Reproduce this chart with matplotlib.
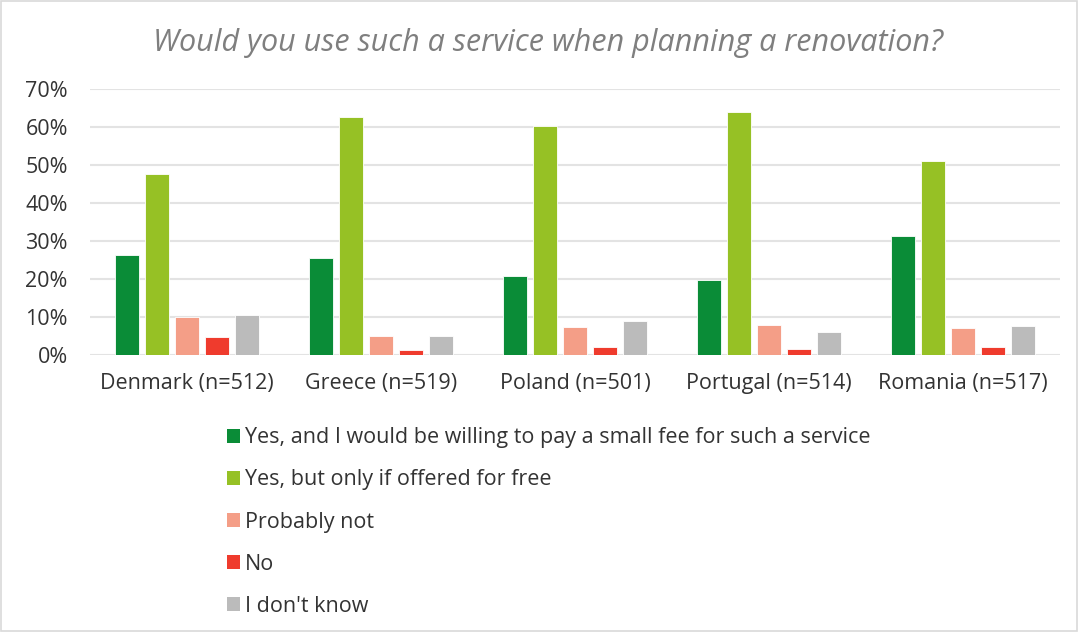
import numpy as np
import matplotlib.pyplot as plt
from matplotlib.patches import Patch, Rectangle

plt.rcParams['font.family'] = ['Open Sans', 'DejaVu Sans']

countries = ['Denmark (n=512)', 'Greece (n=519)', 'Poland (n=501)',
             'Portugal (n=514)', 'Romania (n=517)']
answers = ['Yes, and I would be willing to pay a small fee for such a service',
           'Yes, but only if offered for free',
           'Probably not',
           'No',
           "I don't know"]
yes_pay = [26.3, 25.6, 20.8, 19.7, 31.4]
yes_free = [47.6, 62.6, 60.3, 63.9, 51.1]
probably_not = [10.0, 4.9, 7.3, 7.8, 7.0]
no = [4.8, 1.3, 2.2, 1.7, 2.2]
dont_know = [10.6, 4.9, 8.9, 6.1, 7.6]

series = [yes_pay, yes_free, probably_not, no, dont_know]
colors = ['#0A8C37', '#96C125', '#F49E87', '#EF3B2D', '#BBBBBB']

fig = plt.figure(figsize=(10.78, 6.32), dpi=100)
ax = fig.add_axes([90 / 1078, 1 - 355 / 632, 970 / 1078, 266 / 632])

x = np.arange(len(countries))
pitch = 0.155
width = 0.122
for i, (vals, c) in enumerate(zip(series, colors)):
    ax.bar(x + (i - 2) * pitch, vals, width, color=c, edgecolor='white', linewidth=0.6, zorder=3)

ax.set_xlim(-0.5, len(countries) - 0.5)
ax.set_ylim(0, 70)
ax.set_yticks(range(0, 71, 10))
ax.set_yticklabels([f'{v}%' for v in range(0, 71, 10)])
ax.set_xticks(x)
ax.set_xticklabels(countries)
ax.grid(axis='y', color='#E3E3E3', linewidth=1.5, zorder=0)
for s in ax.spines.values():
    s.set_visible(False)
ax.tick_params(length=0, labelsize=15.5, colors='#333333')
ax.tick_params(axis='x', pad=13)
ax.tick_params(axis='y', pad=16)

fig.text(548 / 1078, 1 - 43 / 632, 'Would you use such a service when planning a renovation?',
         ha='center', va='center', fontsize=22, style='italic', color='#7F7F7F')

handles = [Patch(facecolor=c, edgecolor='none') for c in colors]
fig.legend(handles, answers, loc='upper left', bbox_to_anchor=(208 / 1078, 1 - 408 / 632),
           frameon=False, fontsize=15.5, labelspacing=0.98, handlelength=0.6,
           handleheight=0.6, handletextpad=0.2, labelcolor='#333333')

fig.patches.append(Rectangle((0.001, 0.002), 0.998, 0.996, transform=fig.transFigure,
                             fill=False, edgecolor='#D9D9D9', linewidth=1.2))

fig.savefig('out.png', dpi=100)
